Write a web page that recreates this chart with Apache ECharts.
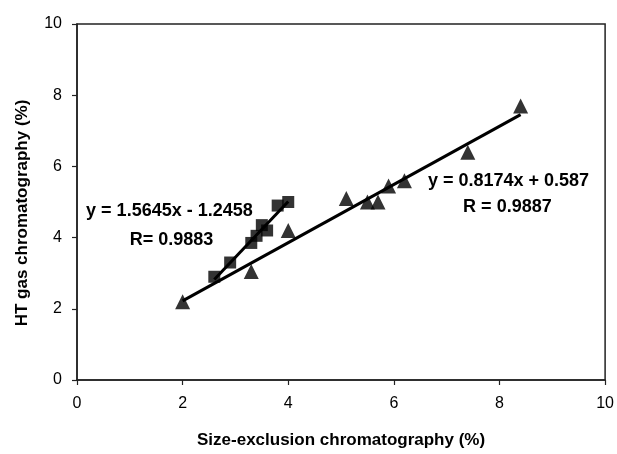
<!DOCTYPE html>
<html><head><meta charset="utf-8">
<script src="https://cdn.jsdelivr.net/npm/echarts@6/dist/echarts.min.js"></script>
<style>html,body{margin:0;padding:0;background:#fff}#c{width:617px;height:454px}</style>
</head><body><div id="c"></div>
<script>
// Squares series (Size-exclusion %, HT GC %)
const squareX = [2.6, 2.9, 3.3, 3.4, 3.5, 3.6, 3.8, 4.0];
const squareY = [2.9, 3.3, 3.85, 4.05, 4.35, 4.2, 4.9, 5.0];
// Triangles series
const triX = [2.0, 3.3, 4.0, 5.1, 5.5, 5.7, 5.9, 6.2, 7.4, 8.4];
const triY = [2.2, 3.05, 4.2, 5.1, 5.0, 5.0, 5.45, 5.6, 6.4, 7.7];
// Linear fits shown on the chart
const squareFit = {slope: 1.5645, intercept: -1.2458, r: '0.9883'};
const triFit = {slope: 0.8174, intercept: 0.587, r: '0.9887'};
const axisTicks = [0, 2, 4, 6, 8, 10];
const xTitle = 'Size-exclusion chromatography (%)';
const yTitle = 'HT gas chromatography (%)';

const FONT = 'Arial, "Liberation Sans", sans-serif';
function fitLine(xs, fit) {
  const lo = Math.min(...xs), hi = Math.max(...xs);
  return [[lo, fit.slope * lo + fit.intercept], [hi, fit.slope * hi + fit.intercept]];
}
const chart = echarts.init(document.getElementById('c'), null, {renderer: 'canvas'});
const axisCommon = {
  type: 'value', min: axisTicks[0], max: axisTicks[axisTicks.length - 1], interval: 2,
  splitLine: {show: false},
  axisLine: {show: true, onZero: false, lineStyle: {color: '#222', width: 1.5}},
  axisTick: {show: true, inside: false, length: 5, lineStyle: {color: '#222', width: 1.2}},
  axisLabel: {color: '#000', fontFamily: FONT, fontSize: 16},
  nameLocation: 'middle',
  nameTextStyle: {color: '#000', fontFamily: FONT, fontSize: 17, fontWeight: 'bold'}
};
chart.setOption({
  animation: false,
  backgroundColor: '#fff',
  grid: {left: 77, right: 10, top: 24, bottom: 71, show: true, borderColor: '#222', borderWidth: 1.5, backgroundColor: 'transparent'},
  xAxis: Object.assign({}, axisCommon, {name: xTitle, nameGap: 52, axisLabel: Object.assign({}, axisCommon.axisLabel, {margin: 16})}),
  yAxis: Object.assign({}, axisCommon, {axisLabel: Object.assign({}, axisCommon.axisLabel, {margin: 15})}),
  series: [
    {type: 'line', data: fitLine(squareX, squareFit), symbol: 'none', lineStyle: {color: '#000', width: 3}, z: 2},
    {type: 'line', data: fitLine(triX, triFit), symbol: 'none', lineStyle: {color: '#000', width: 3}, z: 2},
    {type: 'scatter', data: squareX.map((x, i) => [x, squareY[i]]), symbol: 'rect', symbolSize: 12, itemStyle: {color: '#000'}, z: 3},
    {type: 'scatter', data: triX.map((x, i) => [x, triY[i]]), symbol: 'triangle', symbolSize: 15, itemStyle: {color: '#000'}, z: 3}
  ]
});
const labels = [
  {at: [1.75, 4.76], text: 'y = ' + squareFit.slope + 'x - ' + Math.abs(squareFit.intercept)},
  {at: [1.79, 3.93], text: 'R= ' + squareFit.r},
  {at: [8.17, 5.58], text: 'y = ' + triFit.slope + 'x + ' + triFit.intercept},
  {at: [8.15, 4.86], text: 'R = ' + triFit.r}
];
const graphics = labels.map(l => {
  const p = chart.convertToPixel({gridIndex: 0}, l.at);
  return {type: 'text', x: p[0], y: p[1], z: 10,
    style: {text: l.text, align: 'center', verticalAlign: 'middle', fill: '#000', font: 'bold 18px ' + FONT}};
});
graphics.push({type: 'text', x: 22, y: 213, rotation: Math.PI / 2, z: 10,
  style: {text: yTitle, align: 'center', verticalAlign: 'middle', fill: '#000', font: 'bold 17px ' + FONT}});
chart.setOption({graphic: graphics});
</script></body></html>
